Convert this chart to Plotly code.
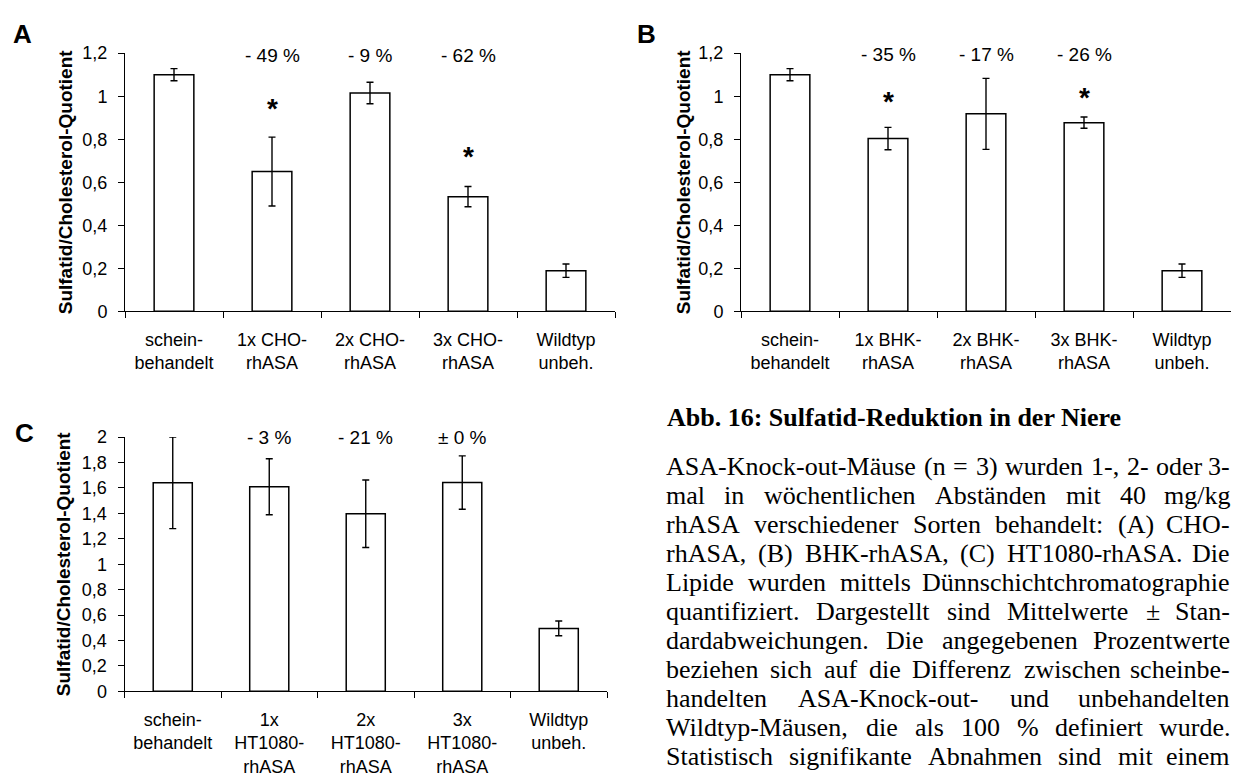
import plotly.graph_objects as go

# ---- data -------------------------------------------------------------
cats_a = ["schein-<br>behandelt", "1x CHO-<br>rhASA", "2x CHO-<br>rhASA",
          "3x CHO-<br>rhASA", "Wildtyp<br>unbeh."]
mean_a = [1.10, 0.65, 1.015, 0.533, 0.189]
sd_a = [0.028, 0.16, 0.05, 0.047, 0.031]
pct_a = ["", "- 49 %", "- 9 %", "- 62 %", ""]
star_a = [None, 0.963, None, 0.737, None]

cats_b = ["schein-<br>behandelt", "1x BHK-<br>rhASA", "2x BHK-<br>rhASA",
          "3x BHK-<br>rhASA", "Wildtyp<br>unbeh."]
mean_b = [1.10, 0.803, 0.918, 0.877, 0.189]
sd_b = [0.028, 0.052, 0.165, 0.026, 0.031]
pct_b = ["", "- 35 %", "- 17 %", "- 26 %", ""]
star_b = [None, 0.993, None, 1.014, None]

cats_c = ["schein-<br>behandelt", "1x<br>HT1080-<br>rhASA", "2x<br>HT1080-<br>rhASA",
          "3x<br>HT1080-<br>rhASA", "Wildtyp<br>unbeh."]
mean_c = [1.64, 1.609, 1.397, 1.642, 0.495]
sd_c = [0.36, 0.22, 0.265, 0.21, 0.058]
pct_c = ["", "- 3 %", "- 21 %", "± 0 %", ""]
star_c = [None, None, None, None, None]

y_title = "Sulfatid/Cholesterol-Quotient"

caption_title = "Abb. 16: Sulfatid-Reduktion in der Niere"
caption_lines = [
    "ASA-Knock-out-Mäuse (n = 3) wurden 1-, 2- oder 3-",
    "mal in wöchentlichen Abständen mit 40 mg/kg",
    "rhASA verschiedener Sorten behandelt: (A) CHO-",
    "rhASA, (B) BHK-rhASA, (C) HT1080-rhASA. Die",
    "Lipide wurden mittels Dünnschichtchromatographie",
    "quantifiziert. Dargestellt sind Mittelwerte ± Stan-",
    "dardabweichungen. Die angegebenen Prozentwerte",
    "beziehen sich auf die Differenz zwischen scheinbe-",
    "handelten ASA-Knock-out- und unbehandelten",
    "Wildtyp-Mäusen, die als 100 % definiert wurde.",
    "Statistisch signifikante Abnahmen sind mit einem",
]

# ---- page geometry -----------------------------------------------------
W, H = 1234, 780
SANS = "Liberation Sans, Arial, sans-serif"
SERIF = "Liberation Serif, Times New Roman, serif"


def px(x):
    return x / W


def py(y):
    return 1 - y / H


fig = go.Figure()

panels = [
    # (xaxis id, yaxis id, cats, means, sds, pcts, stars, ymax, dtick,
    #  x-domain px, y-domain px (bottom, top), pct y, letter, letter pos, title x)
    ("x", "y", cats_a, mean_a, sd_a, pct_a, star_a, 1.2, 0.2,
     (125, 615), (309.3, 44.3), 1.189, "A", (22.5, 25), 65),
    ("x2", "y2", cats_b, mean_b, sd_b, pct_b, star_b, 1.2, 0.2,
     (741, 1231), (309.3, 44.3), 1.193, "B", (646.5, 25), 683),
    ("x3", "y3", cats_c, mean_c, sd_c, pct_c, star_c, 2.0, 0.2,
     (124.5, 607), (699.3, 438.3), 1.995, "C", (24, 434), 63),
]

annotations = []
for i, (xa, ya, cats, means, sds, pcts, stars, ymax, dtick,
        xdom, ydom, pct_y, letter, lpos, tx) in enumerate(panels):
    fig.add_trace(go.Bar(
        x=cats, y=means, xaxis=xa, yaxis=ya, width=0.405,
        marker=dict(color="white", line=dict(color="black", width=1.5)),
        error_y=dict(type="data", array=sds, color="black",
                     thickness=1.4, width=3.5),
        showlegend=False, hoverinfo="skip",
    ))
    suffix = "" if i == 0 else str(i + 1)
    fig.layout["xaxis" + suffix] = dict(
        domain=[px(xdom[0]), px(xdom[1])], anchor=ya,
        type="category", range=[-0.5, 4.5], tickson="boundaries",
        ticks="outside", ticklen=6, tickcolor="black", tickwidth=1,
        showline=True, linecolor="black", linewidth=1,
        showgrid=False, zeroline=False, fixedrange=True,
        tickfont=dict(family=SANS, size=18, color="black"),
        ticklabelstandoff=12,
    )
    fig.layout["yaxis" + suffix] = dict(
        domain=[py(ydom[0]), py(ydom[1])], anchor=xa,
        range=[0, ymax], dtick=dtick, tick0=0,
        ticks="outside", ticklen=6, tickcolor="black", tickwidth=1,
        showline=True, linecolor="black", linewidth=1,
        showgrid=False, zeroline=False, fixedrange=True,
        tickfont=dict(family=SANS, size=18, color="black"),
        ticklabelstandoff=7,
    )
    # percentage change labels above each treated group
    for k, t in enumerate(pcts):
        if t:
            annotations.append(dict(
                x=k, y=pct_y, xref=xa, yref=ya, text=t, showarrow=False,
                xanchor="center", yanchor="middle",
                font=dict(family=SANS, size=19, color="black"),
            ))
    # significance markers
    for k, s in enumerate(stars):
        if s is not None:
            annotations.append(dict(
                x=k, y=s, xref=xa, yref=ya, text="*", showarrow=False,
                xanchor="center", yanchor="middle", yshift=-4,
                font=dict(family=SANS, size=28, color="black", weight="bold"),
            ))
    # panel letter
    annotations.append(dict(
        x=px(lpos[0]), y=py(lpos[1]), xref="paper", yref="paper",
        text=letter, showarrow=False, xanchor="center", yanchor="middle",
        font=dict(family=SANS, size=26, color="black", weight="bold"),
    ))
    # y axis title
    annotations.append(dict(
        x=px(tx), y=py((ydom[0] + ydom[1]) / 2), xref="paper", yref="paper",
        text=y_title, textangle=-90, showarrow=False,
        xanchor="center", yanchor="middle",
        font=dict(family=SANS, size=19, color="black", weight="bold"),
    ))

# ---- figure caption (justified block) ----------------------------------
# Times advance widths in 1/1000 em, used to spread words across the column
TIMES_W = {
    " ": 250, "a": 444, "b": 500, "c": 444, "d": 500, "e": 444, "f": 333,
    "g": 500, "h": 500, "i": 278, "j": 278, "k": 500, "l": 278, "m": 778,
    "n": 500, "o": 500, "p": 500, "q": 500, "r": 333, "s": 389, "t": 278,
    "u": 500, "v": 500, "w": 722, "x": 500, "y": 500, "z": 444,
    "A": 722, "B": 667, "C": 667, "D": 722, "E": 611, "F": 556, "G": 722,
    "H": 722, "I": 333, "J": 389, "K": 722, "L": 611, "M": 889, "N": 722,
    "O": 722, "P": 556, "Q": 722, "R": 667, "S": 556, "T": 611, "U": 722,
    "V": 722, "W": 944, "X": 722, "Y": 722, "Z": 611,
    "-": 333, "(": 333, ")": 333, "=": 564, ",": 250, ".": 250, ":": 278,
    "/": 278, "%": 833, "±": 564, "ä": 444, "ö": 500, "ü": 500,
}


def word_width(word, size):
    return sum(TIMES_W.get(ch, 500) for ch in word) / 1000 * size


CAP_SIZE = 26
COL_LEFT, COL_RIGHT = 665, 1231
TITLE_BASE = 427
LINE0_BASE, LINE_STEP = 477, 29.8

annotations.append(dict(
    x=px(COL_LEFT), y=py(TITLE_BASE - 9), xref="paper", yref="paper",
    text=caption_title, showarrow=False, xanchor="left", yanchor="middle",
    font=dict(family=SERIF, size=CAP_SIZE, color="black", weight="bold"),
))

for li, line in enumerate(caption_lines):
    words = line.split(" ")
    widths = [word_width(w, CAP_SIZE) for w in words]
    gap = (COL_RIGHT - COL_LEFT - sum(widths)) / (len(words) - 1)
    xpos = COL_LEFT
    base = LINE0_BASE + li * LINE_STEP
    for wi, (w, wd) in enumerate(zip(words, widths)):
        last = wi == len(words) - 1
        annotations.append(dict(
            x=px(COL_RIGHT if last else xpos), y=py(base - 9),
            xref="paper", yref="paper",
            text=w, showarrow=False,
            xanchor="right" if last else "left", yanchor="middle",
            borderpad=0,
            font=dict(family=SERIF, size=CAP_SIZE, color="black"),
        ))
        xpos += wd + gap

fig.update_layout(
    width=W, height=H, margin=dict(l=0, r=0, t=0, b=0),
    paper_bgcolor="white", plot_bgcolor="white",
    separators=",.", bargap=0.5,
    annotations=annotations,
    font=dict(family=SANS, color="black"),
)

fig.write_html("out.html", config={"displayModeBar": False})
